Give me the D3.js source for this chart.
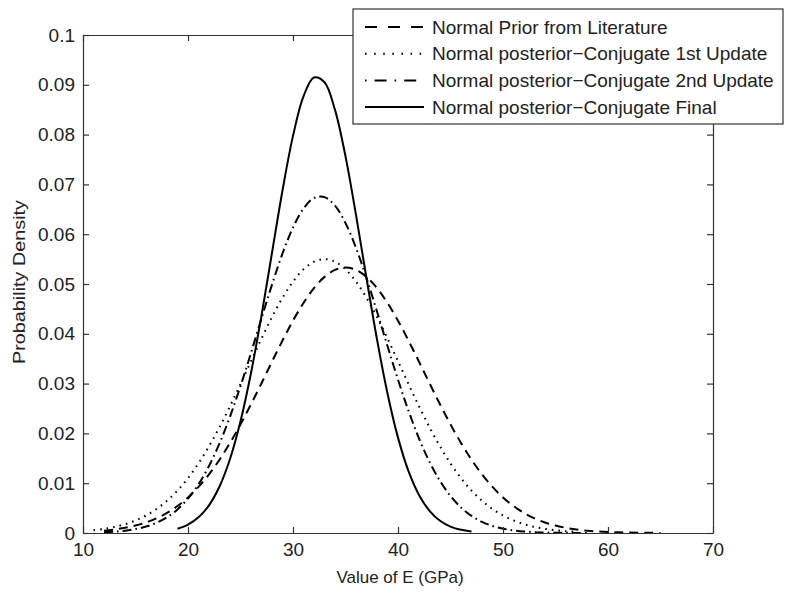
<!DOCTYPE html>
<meta charset="utf-8">
<head>
    <script src="https://cdn.jsdelivr.net/npm/d3@7"></script>
    <style>
        body { margin: 0; background: #fff; }
        text { font-family: "Liberation Sans", Arial, sans-serif; fill: #222; }
        .curve { fill: none; stroke: #000; stroke-width: 2; }
    </style>
</head>
<body>
<script>
    // values (x in GPa, y = density)
    var priorX = d3.range(12, 66);
    var priorY = [0.00047, 0.00071, 0.00104, 0.00149, 0.00212, 0.00295, 0.00403, 0.00541, 0.00714, 0.00925,
        0.01177, 0.01472, 0.01808, 0.02181, 0.02585, 0.03008, 0.03440, 0.03864, 0.04263, 0.04620,
        0.04918, 0.05143, 0.05283, 0.05330, 0.05283, 0.05143, 0.04918, 0.04620, 0.04263, 0.03864,
        0.03440, 0.03008, 0.02585, 0.02181, 0.01808, 0.01472, 0.01177, 0.00925, 0.00714, 0.00541,
        0.00403, 0.00295, 0.00212, 0.00149, 0.00104, 0.00071, 0.00047, 0.00031, 0.00020, 0.00013,
        0.00008, 0.00005, 0.00003, 0.00002];

    var firstX = d3.range(11, 58);
    var firstY = [0.00055, 0.00083, 0.00122, 0.00177, 0.00252, 0.00351, 0.00481, 0.00647, 0.00852, 0.01102,
        0.01398, 0.01740, 0.02124, 0.02545, 0.02991, 0.03451, 0.03905, 0.04336, 0.04723, 0.05048,
        0.05294, 0.05448, 0.05500, 0.05448, 0.05294, 0.05048, 0.04723, 0.04336, 0.03905, 0.03451,
        0.02991, 0.02545, 0.02124, 0.01740, 0.01398, 0.01102, 0.00852, 0.00647, 0.00481, 0.00351,
        0.00252, 0.00177, 0.00122, 0.00083, 0.00055, 0.00036, 0.00023];

    var secondX = d3.range(12, 59);
    var secondY = [0.00015, 0.00027, 0.00047, 0.00079, 0.00129, 0.00205, 0.00316, 0.00474, 0.00691, 0.00978,
        0.01346, 0.01799, 0.02337, 0.02949, 0.03616, 0.04309, 0.04988, 0.05612, 0.06135, 0.06516,
        0.06725, 0.06744, 0.06572, 0.06223, 0.05726, 0.05119, 0.04447, 0.03754, 0.03079, 0.02453,
        0.01900, 0.01429, 0.01045, 0.00742, 0.00513, 0.00344, 0.00224, 0.00142, 0.00087, 0.00052,
        0.00030, 0.00017, 0.00010, 0.00005, 0.00003, 0.00001, 0.00001];

    var finalX = d3.range(19, 48);
    var finalY = [0.00086, 0.00168, 0.00314, 0.00556, 0.00933, 0.01486, 0.02244, 0.03213, 0.04366, 0.05627,
        0.06878, 0.07974, 0.08769, 0.09148, 0.09052, 0.08496, 0.07563, 0.06387, 0.05116, 0.03887,
        0.02801, 0.01915, 0.01241, 0.00764, 0.00445, 0.00246, 0.00129, 0.00064, 0.00030];

    var seriesNames = ["Normal Prior from Literature",
        "Normal posterior\u2212Conjugate 1st Update",
        "Normal posterior\u2212Conjugate 2nd Update",
        "Normal posterior\u2212Conjugate Final"];
    var dashes = ["9,6", "1.6,5", "9,4,1.6,4", null];

    var xTicks = [10, 20, 30, 40, 50, 60, 70];
    var yTicks = [0, 0.01, 0.02, 0.03, 0.04, 0.05, 0.06, 0.07, 0.08, 0.09, 0.1];

    var w = 785, h = 592;
    var margin = {left: 83, right: 72, top: 35, bottom: 59};

    var svg = d3.select("body").append("svg")
        .attr("width", w)
        .attr("height", h);

    var x = d3.scaleLinear().domain([10, 70]).range([margin.left, w - margin.right]);
    var y = d3.scaleLinear().domain([0, 0.1]).range([h - margin.bottom, margin.top]);

    var series = [
        {xs: priorX, ys: priorY},
        {xs: firstX, ys: firstY},
        {xs: secondX, ys: secondY},
        {xs: finalX, ys: finalY}
    ];

    var line = d3.line()
        .x(function(d) { return x(d[0]); })
        .y(function(d) { return y(d[1]); })
        .curve(d3.curveCatmullRom);

    svg.append("g").selectAll("path")
        .data(series)
        .enter().append("path")
        .attr("class", "curve")
        .attr("stroke-dasharray", function(d, i) { return dashes[i]; })
        .attr("d", function(d) { return line(d.xs.map(function(v, i) { return [v, d.ys[i]]; })); });

    // axes, matlab style box with inward ticks
    var fmt = function(d) { return d3.format("")(+d.toFixed(2)); };
    var tk = 6;
    var axes = [
        [d3.axisBottom(x).tickValues(xTicks).tickSizeInner(-tk).tickSizeOuter(0).tickPadding(10), "translate(0," + y(0) + ")"],
        [d3.axisTop(x).tickValues(xTicks).tickSizeInner(-tk).tickSizeOuter(0).tickFormat(""), "translate(0," + y(0.1) + ")"],
        [d3.axisLeft(y).tickValues(yTicks).tickSizeInner(-tk).tickSizeOuter(0).tickPadding(8).tickFormat(fmt), "translate(" + x(10) + ",0)"],
        [d3.axisRight(y).tickValues(yTicks).tickSizeInner(-tk).tickSizeOuter(0).tickFormat(""), "translate(" + x(70) + ",0)"]
    ];
    axes.forEach(function(a) {
        var g = svg.append("g").attr("transform", a[1]).call(a[0]);
        g.selectAll("path, line").attr("stroke", "#333").attr("stroke-width", 1.2);
        g.selectAll("text").attr("font-size", 19).attr("fill", "#222")
            .attr("font-family", "Liberation Sans, Arial, sans-serif");
    });

    svg.append("text")
        .attr("x", 400)
        .attr("y", 583)
        .attr("text-anchor", "middle")
        .attr("font-size", 17)
        .text("Value of E (GPa)");

    // the y label looks stretched along its length in the original
    svg.append("text")
        .attr("transform", "translate(25,282) rotate(-90)")
        .attr("text-anchor", "middle")
        .attr("font-size", 17)
        .attr("textLength", 164)
        .attr("lengthAdjust", "spacingAndGlyphs")
        .text("Probability Density");

    // legend
    var legend = svg.append("g").attr("transform", "translate(353,9)");
    legend.append("rect")
        .attr("width", 430).attr("height", 115)
        .attr("fill", "#fff").attr("stroke", "#333").attr("stroke-width", 1.2);
    var rows = legend.selectAll("g.row").data(seriesNames).enter().append("g")
        .attr("transform", function(d, i) { return "translate(0," + (18 + i * 26.7) + ")"; });
    rows.append("line")
        .attr("x1", 12).attr("x2", 71)
        .attr("stroke", "#000").attr("stroke-width", 2)
        .attr("stroke-dasharray", function(d, i) { return i === 0 ? "12,11" : i === 1 ? "1.6,7.5" : i === 2 ? "1.6,8,12,8" : null; });
    rows.append("text")
        .attr("x", 79).attr("dy", "0.35em")
        .attr("font-size", 19)
        .text(function(d) { return d; });
</script>
</body>
